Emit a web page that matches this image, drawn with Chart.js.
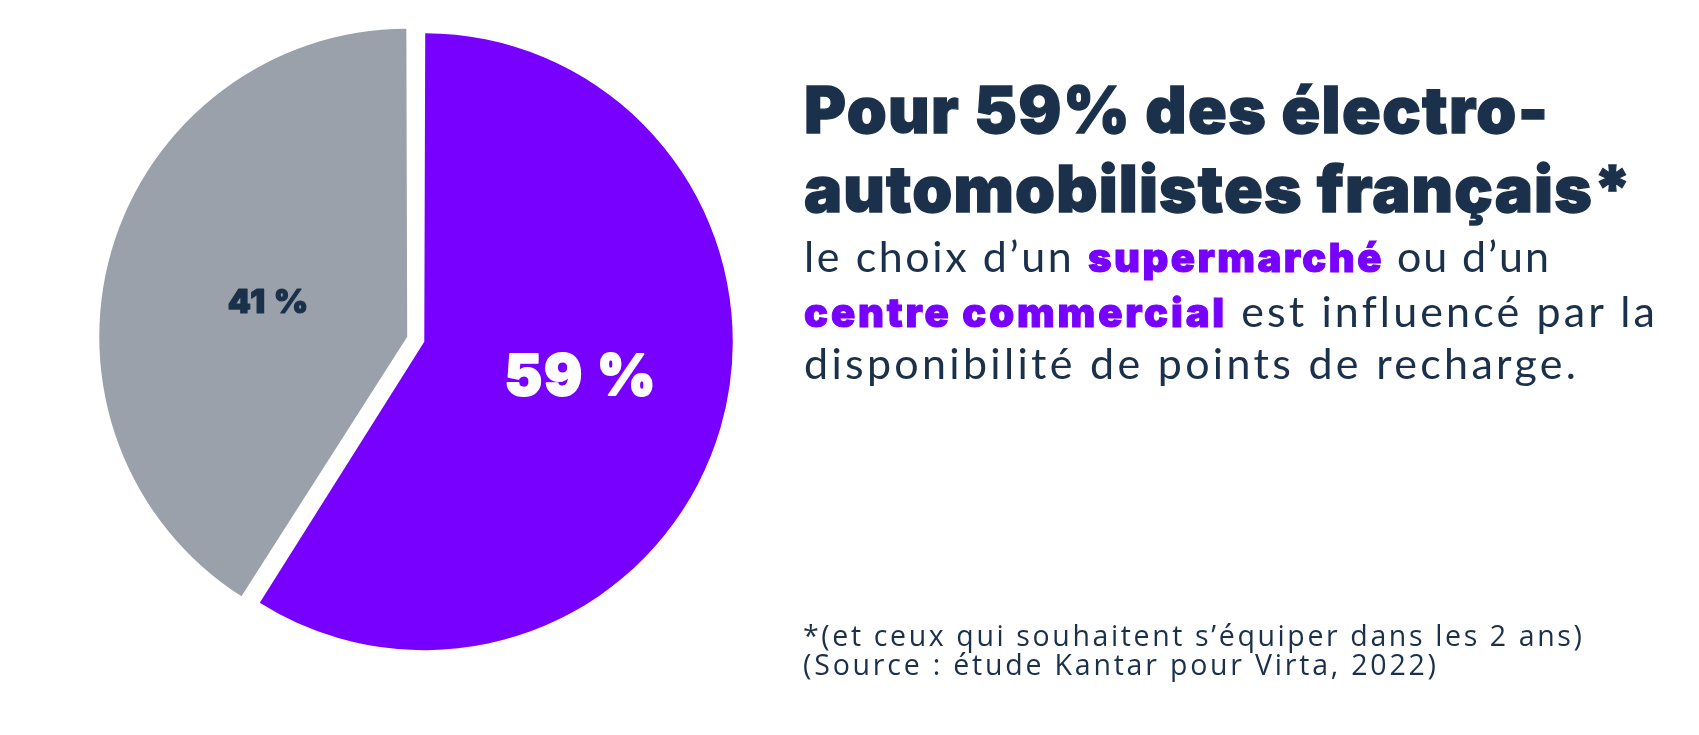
<!DOCTYPE html>
<html lang="fr">
<head>
<meta charset="utf-8">
<title>Pour 59% des électro-automobilistes français</title>
<script src="https://cdn.jsdelivr.net/npm/chart.js@4.4.1/dist/chart.umd.min.js"></script>
<style>
  html, body { margin: 0; padding: 0; background: #ffffff; }
  body { width: 1699px; height: 735px; position: relative; overflow: hidden; }
  #chartBox { position: absolute; left: 0; top: 0; width: 837px; height: 680px; }
  .line { position: absolute; left: 804px; white-space: pre; line-height: 1.2; color: #1b314b; }
  .h { font-family: Inter, "Noto Sans", sans-serif; font-weight: 900; font-size: 64px; -webkit-text-stroke: 1.3px #1b314b; }
  .b { font-family: Lato, "Noto Sans", sans-serif; font-weight: 400; font-size: 43px; }
  .b .em { font-family: Inter, "Noto Sans", sans-serif; font-weight: 900; font-size: 40px; color: #7700ff; -webkit-text-stroke: 1px #7700ff; }
  .f { font-family: "Open Sans", "Noto Sans", sans-serif; font-weight: 400; font-size: 28.5px; left: 803px; }
</style>
</head>
<body>
<div id="chartBox"><canvas id="pie" width="837" height="680"></canvas></div>

<div class="line h" data-base="133"><span data-w="744" data-ink="1">Pour 59% des électro-</span></div>
<div class="line h" data-base="212"><span data-w="828" data-ink="1">automobilistes français*</span></div>

<div class="line b" data-base="272"><span data-w="284">le choix d’un </span><span class="em" data-w="296">supermarché</span><span data-w="165" data-ink="1"> ou d’un</span></div>
<div class="line b" data-base="326.5"><span class="em" data-w="423">centre commercial</span><span data-w="428" data-ink="1"> est influencé par la</span></div>
<div class="line b" data-base="379"><span data-w="772" data-ink="1">disponibilité de points de recharge.</span></div>

<div class="line f" data-base="646"><span data-w="779" data-ink="1">*(et ceux qui souhaitent s’équiper dans les 2 ans)</span></div>
<div class="line f" data-base="675"><span data-w="633" data-ink="1">(Source : étude Kantar pour Virta, 2022)</span></div>

<script>
// ---- Data ----
const categories = ['Choix influencé par la recharge', 'Choix non influencé'];
const shares = [59, 41];
const sliceLabels = ['59 %', '41 %'];

// ---- Styles ----
const sliceColors = ['#7700ff', '#9aa1ab'];
const sliceOffsets = [24, 47];
const labelStyles = [
  { font: '900 56px Inter, "Noto Sans", sans-serif', color: '#ffffff', stroke: 2, dist: 0.548, dAngle: 2.6, spacing: 2 },
  { font: '900 33px Inter, "Noto Sans", sans-serif', color: '#1b314b', stroke: 1.2, dist: 0.465, dAngle: -6.6, spacing: 1 }
];

const sliceLabelPlugin = {
  id: 'sliceLabels',
  afterDatasetsDraw(chart) {
    const meta = chart.getDatasetMeta(0);
    const ctx = chart.ctx;
    meta.data.forEach((arc, i) => {
      const p = arc.getProps(['x', 'y', 'startAngle', 'endAngle', 'outerRadius'], true);
      const shift = (arc.options.offset || 0) / 4;
      const mid = (p.startAngle + p.endAngle) / 2;
      const cx = p.x + Math.cos(mid) * shift;
      const cy = p.y + Math.sin(mid) * shift;
      const st = labelStyles[i];
      const a = mid + st.dAngle * Math.PI / 180;
      const x = cx + Math.cos(a) * st.dist * p.outerRadius;
      const y = cy + Math.sin(a) * st.dist * p.outerRadius;
      ctx.save();
      ctx.font = st.font;
      if ('letterSpacing' in ctx) ctx.letterSpacing = st.spacing + 'px';
      ctx.fillStyle = st.color;
      ctx.strokeStyle = st.color;
      ctx.lineWidth = st.stroke;
      ctx.lineJoin = 'round';
      ctx.textAlign = 'center';
      ctx.textBaseline = 'alphabetic';
      ctx.fillText(sliceLabels[i], x, y);
      ctx.strokeText(sliceLabels[i], x, y);
      ctx.restore();
    });
  }
};

new Chart(document.getElementById('pie'), {
  type: 'pie',
  data: {
    labels: categories,
    datasets: [{
      data: shares,
      backgroundColor: sliceColors,
      borderWidth: 0,
      offset: sliceOffsets,
      hoverOffset: 0,
      radius: 302.5
    }]
  },
  options: {
    responsive: false,
    animation: false,
    events: [],
    layout: { padding: 0 },
    plugins: {
      legend: { display: false },
      tooltip: { enabled: false },
      title: { display: false }
    }
  },
  plugins: [sliceLabelPlugin]
});

// ---- Text layout: fit widths and place baselines ----
function layoutText() {
  document.querySelectorAll('.line').forEach(el => {
    el.querySelectorAll('[data-w]').forEach(sp => {
      sp.style.letterSpacing = '0px';
      const nat = sp.getBoundingClientRect().width;
      const n = Array.from(sp.textContent).length;
      const div = sp.dataset.ink ? Math.max(n - 1, 1) : n;
      const ls = (parseFloat(sp.dataset.w) - nat) / div;
      sp.style.letterSpacing = ls.toFixed(3) + 'px';
    });
    el.style.top = '0px';
    const probe = document.createElement('span');
    probe.style.cssText = 'display:inline-block;width:0;height:0;vertical-align:baseline;';
    el.appendChild(probe);
    const rel = probe.getBoundingClientRect().top - el.getBoundingClientRect().top;
    probe.remove();
    el.style.top = (parseFloat(el.dataset.base) - rel) + 'px';
  });
}
layoutText();
if (document.fonts && document.fonts.ready) document.fonts.ready.then(layoutText);
</script>
</body>
</html>
